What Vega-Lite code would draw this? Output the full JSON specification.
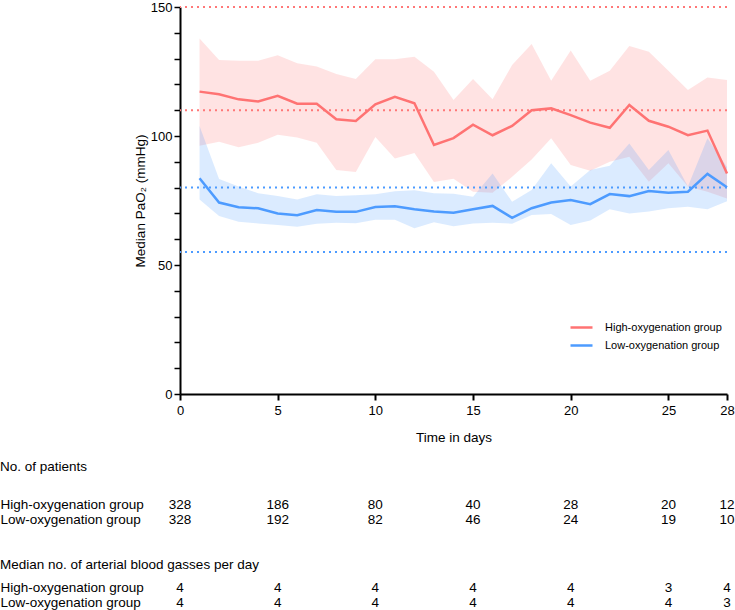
{
  "$schema": "https://vega.github.io/schema/vega-lite/v6.json",
  "padding": {"left": 0, "top": 1, "right": 1, "bottom": 0},
  "config": {
    "font": "Liberation Sans",
    "view": {"stroke": null},
    "axis": {"domainColor": "#000", "tickColor": "#000", "labelColor": "#000", "titleColor": "#000", "titleFontWeight": "normal", "grid": false, "labelFont": "Liberation Sans", "titleFont": "Liberation Sans", "labelFontSize": 13, "titleFontSize": 13.5},
    "title": {"font": "Liberation Sans", "fontWeight": "normal", "color": "#000"}
  },
  "datasets": {
    "ox": [
      {"day": 1, "group": "High-oxygenation group", "median": 117.2, "lo": 96.2, "hi": 137.8},
      {"day": 2, "group": "High-oxygenation group", "median": 116.2, "lo": 97.8, "hi": 129.5},
      {"day": 3, "group": "High-oxygenation group", "median": 114.2, "lo": 95.6, "hi": 129.2},
      {"day": 4, "group": "High-oxygenation group", "median": 113.4, "lo": 97.4, "hi": 129.2},
      {"day": 5, "group": "High-oxygenation group", "median": 115.6, "lo": 100.5, "hi": 131.3},
      {"day": 6, "group": "High-oxygenation group", "median": 112.5, "lo": 99.4, "hi": 128.2},
      {"day": 7, "group": "High-oxygenation group", "median": 112.5, "lo": 97.4, "hi": 126.9},
      {"day": 8, "group": "High-oxygenation group", "median": 106.5, "lo": 86.8, "hi": 124.0},
      {"day": 9, "group": "High-oxygenation group", "median": 105.8, "lo": 86.0, "hi": 122.1},
      {"day": 10, "group": "High-oxygenation group", "median": 112.3, "lo": 99.6, "hi": 129.7},
      {"day": 11, "group": "High-oxygenation group", "median": 115.2, "lo": 91.3, "hi": 129.7},
      {"day": 12, "group": "High-oxygenation group", "median": 112.7, "lo": 93.4, "hi": 130.7},
      {"day": 13, "group": "High-oxygenation group", "median": 96.5, "lo": 82.2, "hi": 124.9},
      {"day": 14, "group": "High-oxygenation group", "median": 99.2, "lo": 83.4, "hi": 114.0},
      {"day": 15, "group": "High-oxygenation group", "median": 104.4, "lo": 78.4, "hi": 122.1},
      {"day": 16, "group": "High-oxygenation group", "median": 100.3, "lo": 78.0, "hi": 114.2},
      {"day": 17, "group": "High-oxygenation group", "median": 103.9, "lo": 84.2, "hi": 127.5},
      {"day": 18, "group": "High-oxygenation group", "median": 110.0, "lo": 90.9, "hi": 135.7},
      {"day": 19, "group": "High-oxygenation group", "median": 110.7, "lo": 99.1, "hi": 121.4},
      {"day": 20, "group": "High-oxygenation group", "median": 108.1, "lo": 88.8, "hi": 133.1},
      {"day": 21, "group": "High-oxygenation group", "median": 105.2, "lo": 86.5, "hi": 121.4},
      {"day": 22, "group": "High-oxygenation group", "median": 103.2, "lo": 90.0, "hi": 125.3},
      {"day": 23, "group": "High-oxygenation group", "median": 112.0, "lo": 92.0, "hi": 134.9},
      {"day": 24, "group": "High-oxygenation group", "median": 105.9, "lo": 82.3, "hi": 132.7},
      {"day": 25, "group": "High-oxygenation group", "median": 103.6, "lo": 89.4, "hi": 125.3},
      {"day": 26, "group": "High-oxygenation group", "median": 100.3, "lo": 80.4, "hi": 117.8},
      {"day": 27, "group": "High-oxygenation group", "median": 102.1, "lo": 78.4, "hi": 122.7},
      {"day": 28, "group": "High-oxygenation group", "median": 85.5, "lo": 75.8, "hi": 121.7},
      {"day": 1, "group": "Low-oxygenation group", "median": 83.6, "lo": 75.4, "hi": 103.9},
      {"day": 2, "group": "Low-oxygenation group", "median": 74.2, "lo": 69.0, "hi": 83.3},
      {"day": 3, "group": "Low-oxygenation group", "median": 72.4, "lo": 66.8, "hi": 80.4},
      {"day": 4, "group": "Low-oxygenation group", "median": 72.0, "lo": 66.1, "hi": 77.8},
      {"day": 5, "group": "Low-oxygenation group", "median": 70.0, "lo": 65.5, "hi": 76.7},
      {"day": 6, "group": "Low-oxygenation group", "median": 69.3, "lo": 64.8, "hi": 75.4},
      {"day": 7, "group": "Low-oxygenation group", "median": 71.3, "lo": 66.0, "hi": 77.4},
      {"day": 8, "group": "Low-oxygenation group", "median": 70.6, "lo": 66.4, "hi": 76.7},
      {"day": 9, "group": "Low-oxygenation group", "median": 70.6, "lo": 66.2, "hi": 77.0},
      {"day": 10, "group": "Low-oxygenation group", "median": 72.5, "lo": 67.5, "hi": 77.4},
      {"day": 11, "group": "Low-oxygenation group", "median": 72.8, "lo": 67.5, "hi": 78.6},
      {"day": 12, "group": "Low-oxygenation group", "median": 71.6, "lo": 64.2, "hi": 79.0},
      {"day": 13, "group": "Low-oxygenation group", "median": 70.7, "lo": 66.6, "hi": 77.8},
      {"day": 14, "group": "Low-oxygenation group", "median": 70.3, "lo": 65.0, "hi": 77.6},
      {"day": 15, "group": "Low-oxygenation group", "median": 71.6, "lo": 66.1, "hi": 76.5},
      {"day": 16, "group": "Low-oxygenation group", "median": 72.9, "lo": 66.4, "hi": 85.5},
      {"day": 17, "group": "Low-oxygenation group", "median": 68.3, "lo": 66.0, "hi": 74.5},
      {"day": 18, "group": "Low-oxygenation group", "median": 72.0, "lo": 69.4, "hi": 79.1},
      {"day": 19, "group": "Low-oxygenation group", "median": 74.2, "lo": 69.8, "hi": 89.4},
      {"day": 20, "group": "Low-oxygenation group", "median": 75.2, "lo": 65.5, "hi": 80.4},
      {"day": 21, "group": "Low-oxygenation group", "median": 73.6, "lo": 67.2, "hi": 86.8},
      {"day": 22, "group": "Low-oxygenation group", "median": 77.5, "lo": 71.6, "hi": 88.5},
      {"day": 23, "group": "Low-oxygenation group", "median": 76.7, "lo": 70.0, "hi": 97.1},
      {"day": 24, "group": "Low-oxygenation group", "median": 78.7, "lo": 70.7, "hi": 86.8},
      {"day": 25, "group": "Low-oxygenation group", "median": 78.0, "lo": 72.0, "hi": 94.6},
      {"day": 26, "group": "Low-oxygenation group", "median": 78.4, "lo": 72.6, "hi": 80.4},
      {"day": 27, "group": "Low-oxygenation group", "median": 85.3, "lo": 71.6, "hi": 99.1},
      {"day": 28, "group": "Low-oxygenation group", "median": 80.1, "lo": 74.7, "hi": 88.0}
    ],
    "targets": [
      {"level": 150, "group": "High-oxygenation group"},
      {"level": 110, "group": "High-oxygenation group"},
      {"level": 80, "group": "Low-oxygenation group"},
      {"level": 55, "group": "Low-oxygenation group"}
    ],
    "patients": [
      {"day": 0, "group": "High-oxygenation group", "n": 328},
      {"day": 5, "group": "High-oxygenation group", "n": 186},
      {"day": 10, "group": "High-oxygenation group", "n": 80},
      {"day": 15, "group": "High-oxygenation group", "n": 40},
      {"day": 20, "group": "High-oxygenation group", "n": 28},
      {"day": 25, "group": "High-oxygenation group", "n": 20},
      {"day": 28, "group": "High-oxygenation group", "n": 12},
      {"day": 0, "group": "Low-oxygenation group", "n": 328},
      {"day": 5, "group": "Low-oxygenation group", "n": 192},
      {"day": 10, "group": "Low-oxygenation group", "n": 82},
      {"day": 15, "group": "Low-oxygenation group", "n": 46},
      {"day": 20, "group": "Low-oxygenation group", "n": 24},
      {"day": 25, "group": "Low-oxygenation group", "n": 19},
      {"day": 28, "group": "Low-oxygenation group", "n": 10}
    ],
    "abg": [
      {"day": 0, "group": "High-oxygenation group", "n": 4},
      {"day": 5, "group": "High-oxygenation group", "n": 4},
      {"day": 10, "group": "High-oxygenation group", "n": 4},
      {"day": 15, "group": "High-oxygenation group", "n": 4},
      {"day": 20, "group": "High-oxygenation group", "n": 4},
      {"day": 25, "group": "High-oxygenation group", "n": 3},
      {"day": 28, "group": "High-oxygenation group", "n": 4},
      {"day": 0, "group": "Low-oxygenation group", "n": 4},
      {"day": 5, "group": "Low-oxygenation group", "n": 4},
      {"day": 10, "group": "Low-oxygenation group", "n": 4},
      {"day": 15, "group": "Low-oxygenation group", "n": 4},
      {"day": 20, "group": "Low-oxygenation group", "n": 4},
      {"day": 25, "group": "Low-oxygenation group", "n": 4},
      {"day": 28, "group": "Low-oxygenation group", "n": 3}
    ]
  },
  "vconcat": [
    {
      "width": 547,
      "height": 387,
      "layer": [
        {
          "data": {"name": "ox"},
          "transform": [{"filter": "datum.group === 'High-oxygenation group'"}],
          "mark": {"type": "area", "color": "#FF7373", "fillOpacity": 0.2, "interpolate": "linear"},
          "encoding": {
            "x": {"field": "day", "type": "quantitative", "scale": {"domain": [0, 28], "nice": false},
                  "axis": {"values": [0, 5, 10, 15, 20, 25, 28], "title": "Time in days", "titlePadding": 13, "labelPadding": 4, "tickSize": 6, "tickWidth": 2, "domainWidth": 2, "labelFlush": false}},
            "y": {"field": "lo", "type": "quantitative", "scale": {"domain": [0, 150], "nice": false},
                  "axis": {"values": [0, 10, 20, 30, 40, 50, 60, 70, 80, 90, 100, 110, 120, 130, 140, 150], "labelExpr": "datum.value % 50 === 0 ? datum.label : ''", "labelOverlap": false, "title": "Median PaO₂ (mmHg)", "titlePadding": 3, "labelPadding": 2, "tickSize": 6, "tickWidth": 1.5, "domainWidth": 2}},
            "y2": {"field": "hi"}
          }
        },
        {
          "data": {"name": "ox"},
          "transform": [{"filter": "datum.group === 'Low-oxygenation group'"}],
          "mark": {"type": "area", "color": "#4D9BFF", "fillOpacity": 0.2, "interpolate": "linear"},
          "encoding": {
            "x": {"field": "day", "type": "quantitative", "scale": {"domain": [0, 28], "nice": false},
                  "axis": {"values": [0, 5, 10, 15, 20, 25, 28], "title": "Time in days", "titlePadding": 13, "labelPadding": 4, "tickSize": 6, "tickWidth": 2, "domainWidth": 2, "labelFlush": false}},
            "y": {"field": "lo", "type": "quantitative", "scale": {"domain": [0, 150], "nice": false},
                  "axis": {"values": [0, 10, 20, 30, 40, 50, 60, 70, 80, 90, 100, 110, 120, 130, 140, 150], "labelExpr": "datum.value % 50 === 0 ? datum.label : ''", "labelOverlap": false, "title": "Median PaO₂ (mmHg)", "titlePadding": 3, "labelPadding": 2, "tickSize": 6, "tickWidth": 1.5, "domainWidth": 2}},
            "y2": {"field": "hi"}
          }
        },
        {
          "data": {"name": "targets"},
          "transform": [{"filter": "datum.group === 'High-oxygenation group'"}],
          "mark": {"type": "rule", "color": "#FF7878", "strokeDash": [2, 4], "strokeWidth": 2},
          "encoding": {
            "y": {"field": "level", "type": "quantitative", "scale": {"domain": [0, 150], "nice": false},
                  "axis": {"values": [0, 10, 20, 30, 40, 50, 60, 70, 80, 90, 100, 110, 120, 130, 140, 150], "labelExpr": "datum.value % 50 === 0 ? datum.label : ''", "labelOverlap": false, "title": "Median PaO₂ (mmHg)", "titlePadding": 3, "labelPadding": 2, "tickSize": 6, "tickWidth": 1.5, "domainWidth": 2}}
          }
        },
        {
          "data": {"name": "targets"},
          "transform": [{"filter": "datum.group === 'Low-oxygenation group'"}],
          "mark": {"type": "rule", "color": "#4D9BFF", "strokeDash": [2, 4], "strokeWidth": 2},
          "encoding": {
            "y": {"field": "level", "type": "quantitative", "scale": {"domain": [0, 150], "nice": false},
                  "axis": {"values": [0, 10, 20, 30, 40, 50, 60, 70, 80, 90, 100, 110, 120, 130, 140, 150], "labelExpr": "datum.value % 50 === 0 ? datum.label : ''", "labelOverlap": false, "title": "Median PaO₂ (mmHg)", "titlePadding": 3, "labelPadding": 2, "tickSize": 6, "tickWidth": 1.5, "domainWidth": 2}}
          }
        },
        {
          "data": {"name": "ox"},
          "mark": {"type": "line", "strokeWidth": 2.5, "interpolate": "linear"},
          "encoding": {
            "x": {"field": "day", "type": "quantitative", "scale": {"domain": [0, 28], "nice": false},
                  "axis": {"values": [0, 5, 10, 15, 20, 25, 28], "title": "Time in days", "titlePadding": 13, "labelPadding": 4, "tickSize": 6, "tickWidth": 2, "domainWidth": 2, "labelFlush": false}},
            "y": {"field": "median", "type": "quantitative", "scale": {"domain": [0, 150], "nice": false},
                  "axis": {"values": [0, 10, 20, 30, 40, 50, 60, 70, 80, 90, 100, 110, 120, 130, 140, 150], "labelExpr": "datum.value % 50 === 0 ? datum.label : ''", "labelOverlap": false, "title": "Median PaO₂ (mmHg)", "titlePadding": 3, "labelPadding": 2, "tickSize": 6, "tickWidth": 1.5, "domainWidth": 2}},
            "color": {"field": "group", "type": "nominal", "scale": {"domain": ["High-oxygenation group", "Low-oxygenation group"], "range": ["#FF7373", "#4D9BFF"]},
                      "legend": {"orient": "none", "legendX": 389, "legendY": 308, "title": null, "symbolType": "stroke", "symbolSize": 484, "symbolStrokeWidth": 2.5, "labelFontSize": 11, "labelColor": "#000", "labelOffset": 11, "rowPadding": -6, "padding": 0}}
          }
        }
      ]
    },
    {
      "width": 547,
      "height": 44,
      "title": {"text": "No. of patients", "anchor": "start", "frame": "bounds", "fontSize": 13.5, "offset": 24},
      "data": {"name": "patients"},
      "mark": {"type": "text", "fontSize": 13.5, "color": "#000"},
      "encoding": {
        "x": {"field": "day", "type": "quantitative", "scale": {"domain": [0, 28], "nice": false}, "axis": null},
        "y": {"field": "group", "type": "nominal", "scale": {"type": "band", "domain": ["High-oxygenation group", "Low-oxygenation group"], "paddingInner": 0, "paddingOuter": 0.5, "align": 0},
              "axis": {"title": null, "ticks": false, "domain": false, "labelAlign": "left", "labelPadding": 180, "labelFontSize": 13.5, "labelLimit": 0, "labelOverlap": false}},
        "text": {"field": "n", "type": "quantitative"}
      }
    },
    {
      "width": 547,
      "height": 29,
      "title": {"text": "Median no. of arterial blood gasses per day", "anchor": "start", "frame": "bounds", "fontSize": 13.5, "offset": 9},
      "data": {"name": "abg"},
      "mark": {"type": "text", "fontSize": 13.5, "color": "#000"},
      "encoding": {
        "x": {"field": "day", "type": "quantitative", "scale": {"domain": [0, 28], "nice": false}, "axis": null},
        "y": {"field": "group", "type": "nominal", "scale": {"type": "band", "domain": ["High-oxygenation group", "Low-oxygenation group"], "paddingInner": 0, "paddingOuter": 0},
              "axis": {"title": null, "ticks": false, "domain": false, "labelAlign": "left", "labelPadding": 180, "labelFontSize": 13.5, "labelLimit": 0, "labelOverlap": false}},
        "text": {"field": "n", "type": "quantitative"}
      }
    }
  ],
  "spacing": 16
}
